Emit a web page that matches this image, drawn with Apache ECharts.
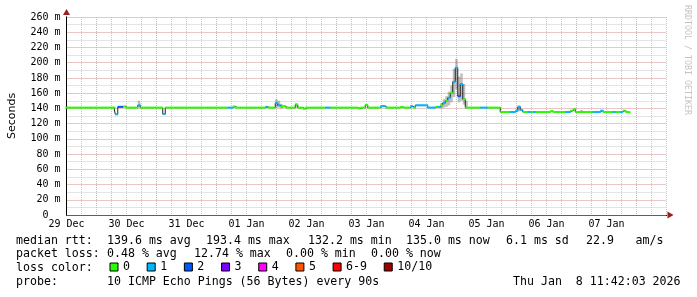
<!DOCTYPE html>
<html><head><meta charset="utf-8">
<script src="https://cdn.jsdelivr.net/npm/echarts@6/dist/echarts.min.js"></script>
<style>html,body{margin:0;padding:0;background:#fff}#c{width:697px;height:297px}</style>
</head><body><div id="c"></div>
<script>
// ---- data (hourly bins starting 29 Dec 00:00) ----
const dayLabels = ['29 Dec','30 Dec','31 Dec','01 Jan','02 Jan','03 Jan','04 Jan','05 Jan','06 Jan','07 Jan'];
const yTickLabels = ['0  ','20 m','40 m','60 m','80 m','100 m','120 m','140 m','160 m','180 m','200 m','220 m','240 m','260 m'];
const lossClasses = ['0','1','2','3','4','5','6-9','10/10'];
const lossColors = ['#26ff00','#00b8ff','#0059ff','#7e00ff','#ff00ff','#ff5500','#ff0000','#a10000'];

const medianRtt = [
  141,141,141,141,141,141,141,141,141,141,141,141,141,141,141,141,141,141,141,141,132.2,142,142,142.5,
  141,141,141,141,141,144,141,141,141,141,141,141,141,141,141,132.5,141,141,141,141,141,141,141,141,
  141,141,141,141,141,141,141,141,141,141,141,141,141,141,141,141,141,141,141,142.5,141,141,141,141,
  141,141,141,141,141,141,141,141,142,141,141,141,147,144,142,143,141,141,141,141,145,141,141,139.5,
  141,141,141,141,141,141,141,141,141,141,141,141,141,141,141,141,141,141,141,141,141,140,141,141,
  144.5,141,141,141,141,141,143,143,141,141,141,141,141,141,142,141,141,141,143,141,144,144,144,144,
  144,141,141,141,142,142,144,147,150,154,160,175,193.4,156,172,152,141,141,141,141,141,141,141,141,
  141,141,141,141,141,141,135.3,135.3,135.3,135.3,135.3,135.3,137,142,138,135.3,135.3,135.3,135.3,135.3,135.3,135.3,135.3,135.3,
  135.3,135.3,136.5,135.3,135.3,135.3,135.3,135.3,135.3,135.3,137,139,135.3,135.3,135.3,135.3,135.3,135.3,135.3,135.3,135.3,135.3,137,135.3,
  135.3,135.3,135.3,135.3,135.3,135.3,135.3,137,135.3,135.0
];
const lossIdx = [
  0,0,0,0,0,0,0,0,0,0,0,0,0,0,0,0,0,0,0,0,1,2,2,0,
  0,0,0,0,0,1,0,0,0,0,0,0,0,0,0,1,0,0,0,0,0,0,0,0,
  0,0,0,0,0,0,0,0,0,0,0,0,0,0,0,0,0,1,1,0,0,0,0,0,
  0,0,0,0,0,0,0,0,1,0,0,0,1,1,0,0,0,0,0,0,0,0,0,0,
  0,0,0,0,0,0,0,0,1,1,0,0,0,0,0,0,0,0,0,0,0,0,0,0,
  0,0,0,0,0,0,1,1,0,0,0,0,0,0,0,0,0,0,1,0,1,1,1,1,
  1,1,1,1,0,1,0,1,0,1,0,1,1,2,1,0,0,0,0,0,0,0,1,1,
  1,0,0,0,0,0,0,0,0,0,1,1,1,1,1,0,0,1,0,1,0,0,0,0,
  0,0,0,0,0,0,0,0,1,1,0,0,0,0,0,0,0,0,0,1,1,1,1,0,
  0,0,0,1,0,0,1,0,0,0
];
const smokeHours = [29, 84, 85, 86, 92, 150, 151, 152, 153, 154, 155, 156, 157, 158, 159, 160, 181, 206];
const smokeLow   = [141, 141, 141, 140, 141, 140, 141, 142, 144, 148, 155, 165, 148, 150, 145, 140, 136, 135];
const smokeHigh  = [150, 152, 150, 146, 147, 147, 152, 156, 162, 170, 192, 205, 182, 186, 172, 150, 144, 138];

// ---- chart ----
const MONO = 'DejaVu Sans Mono';
const gridGray = '#c8c8c8';
const gridRed = '#eeaaaa';
const arrowRed = '#9a1f1f';

// major (red) vertical grid: every 24 h, offset 12 h from the axis start
const majorHours = [];
for (let h = 12; h < 240; h += 24) majorHours.push([h]);

function binRect(color) {
  return function (params, api) {
    const h = api.value(0), v = api.value(1);
    const p0 = api.coord([h - 0.5, v]);
    const p1 = api.coord([h + 0.5, v]);
    return {type: 'rect', shape: {x: p0[0], y: p0[1] - 1, width: p1[0] - p0[0] + 0.3, height: 2},
            style: {fill: color}};
  };
}

const lossSeries = lossClasses.map((name, k) => ({
  name, type: 'custom', z: 4, animation: false,
  itemStyle: {color: lossColors[k]},
  encode: {x: 0, y: 1},
  data: medianRtt.map((v, i) => lossIdx[i] === k ? [i, v] : null).filter(d => d !== null),
  renderItem: binRect(lossColors[k])
}));

const chart = echarts.init(document.getElementById('c'), null, {renderer: 'canvas'});
const textLines = [
  ['median rtt:', 16, 240.5], ['139.6 ms avg', 107, 240.5], ['193.4 ms max', 206, 240.5],
  ['132.2 ms min', 308, 240.5], ['135.0 ms now', 406, 240.5], ['6.1 ms sd', 506, 240.5],
  ['22.9', 586, 240.5], ['am/s', 635.5, 240.5],
  ['packet loss:', 16, 254], ['0.48 % avg', 107, 254], ['12.74 % max', 194, 254],
  ['0.00 % min', 286, 254], ['0.00 % now', 371, 254],
  ['loss color:', 16, 268],
  ['probe:', 16, 282], ['10 ICMP Echo Pings (56 Bytes) every 90s', 107, 282],
  ['Thu Jan  8 11:42:03 2026', 513, 282]
];

chart.setOption({
  animation: false,
  backgroundColor: '#ffffff',
  grid: {left: 66.5, right: 30.5, top: 17, bottom: 82, containLabel: false, outerBoundsMode: 'none'},
  xAxis: [{
    type: 'value', min: 0, max: 240, interval: 6, z: 0,
    axisLine: {show: true, onZero: false, lineStyle: {color: '#000', width: 1}},
    axisTick: {show: false},
    splitLine: {show: true, lineStyle: {color: gridGray, width: 1, type: [1, 1]}},
    axisLabel: {
      show: true, margin: 4, color: '#000', fontFamily: MONO, fontSize: 10,
      formatter: v => (v % 24 === 0 && dayLabels[v / 24] !== undefined) ? dayLabels[v / 24] : ''
    }
  }, {
    type: 'value', min: 0, max: 240, z: -1, position: 'bottom',
    axisLine: {show: true, onZero: false, symbol: ['none', 'triangle'], symbolSize: [7, 6], symbolOffset: [0, 4],
      lineStyle: {color: arrowRed, width: 1}},
    axisTick: {show: false}, axisLabel: {show: false}, splitLine: {show: false}
  }],
  yAxis: [{
    type: 'value', min: 0, max: 260, interval: 10, z: -1, position: 'left',
    axisLine: {show: true, onZero: false, symbol: ['none', 'triangle'], symbolSize: [7, 6], symbolOffset: [0, 5],
      lineStyle: {color: arrowRed, width: 1}},
    axisTick: {show: false}, axisLabel: {show: false},
    splitLine: {show: true, lineStyle: {color: gridGray, width: 1, type: [1, 1]}}
  }, {
    type: 'value', min: 0, max: 260, interval: 20, z: 1, position: 'left',
    name: 'Seconds', nameLocation: 'middle', nameGap: 49, nameRotate: 90,
    nameTextStyle: {fontFamily: 'DejaVu Sans', fontSize: 11, color: '#000'},
    axisLine: {show: true, onZero: false, lineStyle: {color: '#000', width: 1}},
    axisTick: {show: false},
    axisLabel: {show: true, margin: 6, color: '#000', fontFamily: MONO, fontSize: 10,
      formatter: v => yTickLabels[Math.round(v / 20)]},
    splitLine: {show: true, lineStyle: {color: gridRed, width: 1, type: [1, 1]}}
  }],
  legend: {
    data: lossClasses, left: 109.5, top: 261, orient: 'horizontal', padding: 0,
    itemWidth: 8, itemHeight: 8, itemGap: 16.7, icon: 'rect', selectedMode: false,
    itemStyle: {borderColor: '#000', borderWidth: 1},
    textStyle: {fontFamily: MONO, fontSize: 11.6, color: '#000', padding: [4, 0, 0, 0]}
  },
  graphic: textLines.map(t => ({
    type: 'text', x: t[1], y: t[2], silent: true,
    style: {text: t[0], fontFamily: MONO, fontSize: 11.6, fill: '#000', align: 'left', verticalAlign: 'middle'}
  })).concat([{
    type: 'text', x: 687, y: 60, rotation: -Math.PI / 2, silent: true,
    style: {text: 'RRDTOOL / TOBI OETIKER', fontFamily: MONO, fontSize: 8.3, fill: '#c4c4c4',
      align: 'center', verticalAlign: 'middle'}
  }]),
  series: [{
    name: 'majorGrid', type: 'custom', z: 1, silent: true,
    encode: {x: 0},
    data: majorHours,
    renderItem: function (params, api) {
      const h = api.value(0);
      const top = api.coord([h, 260]);
      const bot = api.coord([h, 0]);
      return {type: 'line', shape: {x1: top[0], y1: top[1], x2: bot[0], y2: bot[1]},
              style: {stroke: gridRed, lineWidth: 1, lineDash: [1, 1], fill: null}};
    }
  }, {
    name: 'smoke', type: 'custom', z: 2,
    encode: {x: 0, y: [1, 2]},
    data: smokeHours.map((h, i) => [h, smokeLow[i], smokeHigh[i]]),
    renderItem: function (params, api) {
      const h = api.value(0);
      const p0 = api.coord([h - 0.5, api.value(2)]);
      const p1 = api.coord([h + 0.5, api.value(1)]);
      return {type: 'rect', shape: {x: p0[0], y: p0[1], width: p1[0] - p0[0], height: p1[1] - p0[1]},
              style: {fill: 'rgba(110,110,110,0.45)'}};
    }
  }, {
    name: 'median', type: 'line', step: 'middle', z: 3, showSymbol: false, symbol: 'none',
    data: medianRtt.map((v, i) => [i, v]),
    lineStyle: {color: '#222', width: 1}
  }].concat(lossSeries)
});
</script></body></html>
